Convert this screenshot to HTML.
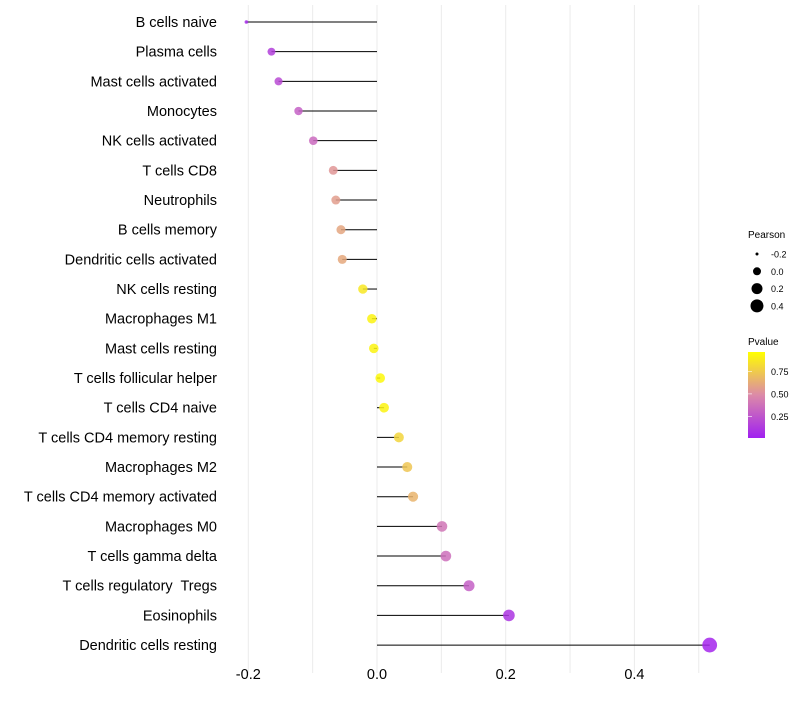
<!DOCTYPE html>
<html><head><meta charset="utf-8"><style>
body{margin:0;background:#fff;font-family:"Liberation Sans",sans-serif}
text{white-space:pre}
</style></head><body>
<svg id="chart" width="800" height="700" xmlns="http://www.w3.org/2000/svg">
<defs><linearGradient id="pg" x1="0" y1="1" x2="0" y2="0">
<stop offset="0" stop-color="#a020f0"/><stop offset="0.5" stop-color="#dc8aa8"/><stop offset="1" stop-color="#ffff00"/></linearGradient></defs>
<g id="grid"></g>
<g id="marks"></g>
<g id="ylab"></g>
<g id="xlab"></g>
<g>
<text x="748" y="238" font-size="10">Pearson</text>
<g id="sizeleg"></g></g>
<g>
<text x="748" y="345" font-size="10">Pvalue</text>
<rect x="748" y="352" width="17" height="86" fill="url(#pg)"/>
<g id="colleg"></g></g>
</svg>
<script>
const cells=["B cells naive","Plasma cells","Mast cells activated","Monocytes","NK cells activated","T cells CD8","Neutrophils","B cells memory","Dendritic cells activated","NK cells resting","Macrophages M1","Mast cells resting","T cells follicular helper","T cells CD4 naive","T cells CD4 memory resting","Macrophages M2","T cells CD4 memory activated","Macrophages M0","T cells gamma delta","T cells regulatory  Tregs","Eosinophils","Dendritic cells resting"];
const pearson=[-0.203,-0.164,-0.153,-0.122,-0.099,-0.068,-0.064,-0.056,-0.054,-0.022,-0.008,-0.005,0.005,0.011,0.034,0.047,0.056,0.101,0.107,0.143,0.205,0.517];
const pvalue=[0.05,0.15,0.2,0.3,0.35,0.55,0.58,0.62,0.63,0.9,0.95,0.95,0.97,0.95,0.82,0.75,0.68,0.4,0.37,0.3,0.1,0.03];
const xTicks=[-0.2,0,0.2,0.4];
const xTickLabels=["-0.2","0.0","0.2","0.4"];
const gridVals=[-0.2,-0.1,0,0.1,0.2,0.3,0.4,0.5];
const sizeVals=[-0.2,0,0.2,0.4];
const sizeLabels=["-0.2","0.0","0.2","0.4"];
const colVals=[0.75,0.5,0.25];
const colLabels=["0.75","0.50","0.25"];
const NS="http://www.w3.org/2000/svg";
const x=v=>377+v*643.5;
const y=i=>22+i*29.67;
const r=v=>v<-0.19?1.8:Math.max(2,4.8+5*v);
const py=p=>438-(p-0.01)*90;
function lerp(a,b,t){return a.map((c,i)=>Math.round(c+(b[i]-c)*t));}
function col(p){const A=[160,32,240],M=[220,138,168],B=[255,255,0];const c=p<0.5?lerp(A,M,p/0.5):lerp(M,B,(p-0.5)/0.5);return`rgb(${c})`;}
function mk(t,a,parent){const e=document.createElementNS(NS,t);for(const k in a)e.setAttribute(k,a[k]);document.getElementById(parent).appendChild(e);return e;}
gridVals.forEach(v=>{const l=mk("line",{x1:x(v),x2:x(v),y1:5,y2:673,stroke:"#ebebeb","stroke-width":1},"grid");

});
cells.forEach((c,i)=>{
const s=mk("line",{x1:x(0),x2:x(pearson[i]),y1:y(i),y2:y(i),stroke:"#000","stroke-width":1},"marks");


const d=mk("circle",{cx:x(pearson[i]),cy:y(i),r:r(pearson[i]),fill:col(pvalue[i]),"fill-opacity":0.85},"marks");


const t=mk("text",{x:217,y:y(i)+5,"text-anchor":"end","font-size":14.5,fill:"#000"},"ylab");t.textContent=c;


});
xTicks.forEach((v,i)=>{const t=mk("text",{x:x(v),y:679,"text-anchor":"middle","font-size":14.5},"xlab");t.textContent=xTickLabels[i];

});
sizeVals.forEach((v,i)=>{const cy=254+i*17.3;
const c=mk("circle",{cx:757,cy:cy,r:[1.5,4,5.5,6.5][i],fill:"#000"},"sizeleg");


const t=mk("text",{x:771,y:cy+3.5,"font-size":9},"sizeleg");t.textContent=sizeLabels[i];

});
colVals.forEach((v,i)=>{const yy=py(v);
const l=mk("line",{x1:748,x2:752,y1:yy,y2:yy,stroke:"#fff","stroke-width":0.6},"colleg");


const t=mk("text",{x:771,y:yy+3.5,"font-size":9},"colleg");t.textContent=colLabels[i];

});
</script>
</body></html>
